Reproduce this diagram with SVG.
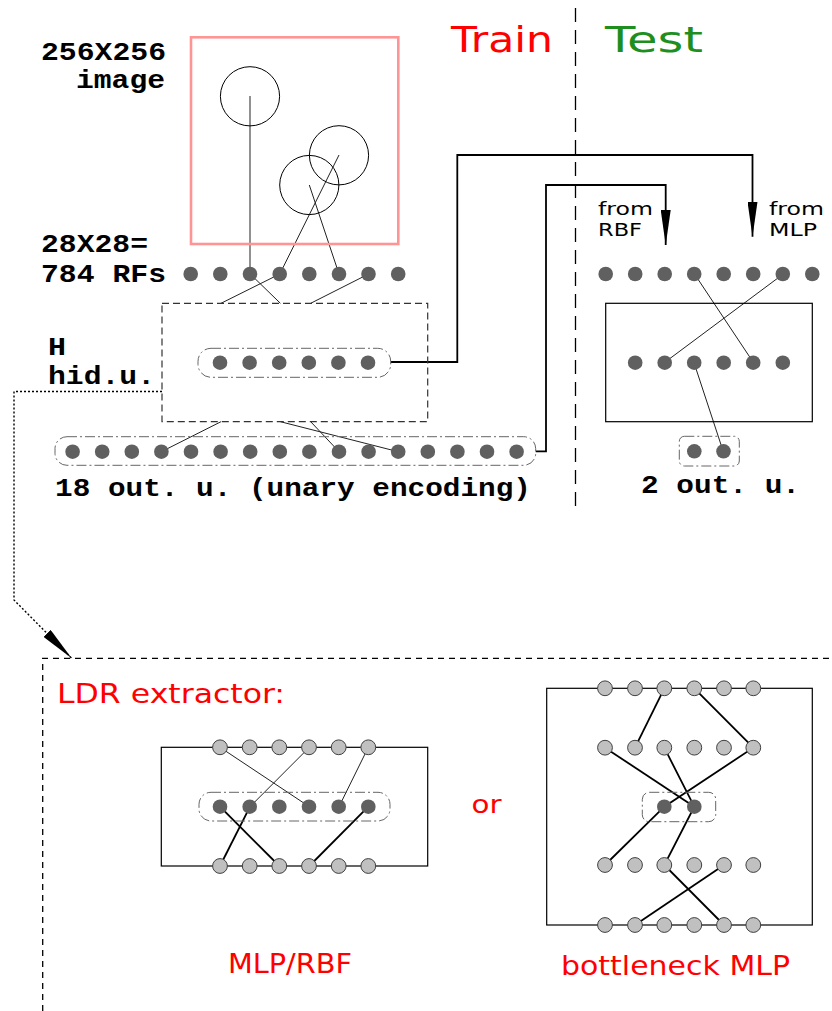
<svg xmlns="http://www.w3.org/2000/svg" width="832" height="1011" viewBox="0 0 832 1011">
<defs>
<style>
.mono{font-family:"Liberation Mono","DejaVu Sans Mono",monospace;font-weight:bold;font-size:26px;fill:#000}
.hand{font-family:"DejaVu Sans","Liberation Sans",sans-serif;fill:#ff0000}
.small{font-family:"DejaVu Sans","Liberation Sans",sans-serif;font-size:18px;fill:#000}
.dot{fill:#606060}
.ldot{fill:#c0c0c0;stroke:#404040;stroke-width:1}
.thin{stroke:#222;stroke-width:1;fill:none}
.thick{stroke:#000;stroke-width:1.8;fill:none}
.grp{fill:none;stroke:#666;stroke-width:1;stroke-dasharray:10 3 2 3}
.box{fill:none;stroke:#000;stroke-width:1.2}
.dbox{fill:none;stroke:#333;stroke-width:1.2;stroke-dasharray:7 4}
.wire{fill:none;stroke:#000;stroke-width:1.8}
</style>
<marker id="arr" viewBox="0 0 35 10" refX="35" refY="5" markerWidth="35" markerHeight="10" markerUnits="userSpaceOnUse" orient="auto">
<path d="M0,0 L35,5 L0,10 z" fill="#000"/>
</marker>
</defs>
<rect width="832" height="1011" fill="#fff"/>

<!-- Train / Test -->
<g id="train-test">
<line x1="575.5" y1="8" x2="575.5" y2="512" stroke="#000" stroke-width="1.3" stroke-dasharray="14 8"/>
<text class="hand" x="451" y="52" font-size="36" textLength="102" lengthAdjust="spacingAndGlyphs">Train</text>
<text class="hand" x="605" y="52" font-size="36" fill="#1e8f1e" style="fill:#1e8f1e" textLength="98" lengthAdjust="spacingAndGlyphs">Test</text>
</g>

<!-- connectors -->
<g id="connectors">
<line class="thin" x1="250" y1="96" x2="250" y2="274"/>
<line class="thin" x1="339" y1="155" x2="279.8" y2="274"/>
<line class="thin" x1="309.3" y1="185" x2="339" y2="274"/>
<line class="thin" x1="279.8" y1="274" x2="221" y2="303.3"/>
<line class="thin" x1="250.2" y1="274" x2="280.4" y2="303.3"/>
<line class="thin" x1="368.6" y1="274" x2="310.7" y2="303.3"/>
<line class="thin" x1="221" y1="421.7" x2="161.4" y2="451.7"/>
<line class="thin" x1="280.4" y1="421.7" x2="398.2" y2="451.7"/>
<line class="thin" x1="310.7" y1="421.7" x2="339" y2="451.7"/>
<polyline class="wire" points="390.7,362 457.3,362 457.3,155 752.5,155 752.5,236.7" marker-end="url(#arr)"/>
<polyline class="wire" points="535.7,451.3 546,451.3 546,185 665.7,185 665.7,245" marker-end="url(#arr)"/>
<line class="thin" x1="694.5" y1="274" x2="753.5" y2="362.7"/>
<line class="thin" x1="783.3" y1="274" x2="664.3" y2="362.7"/>
<line class="thin" x1="694" y1="362.7" x2="723.3" y2="451.7"/>
<polyline fill="none" stroke="#000" stroke-width="1.4" stroke-dasharray="2 2" points="162,391.5 14,391.5 14,600 71.7,658.3" marker-end="url(#arr)"/>
<line class="thin" x1="220" y1="747.3" x2="309.3" y2="806.7"/>
<line class="thin" x1="309.3" y1="747.3" x2="250" y2="806.7"/>
<line class="thin" x1="368.3" y1="747.3" x2="339" y2="806.7"/>
<line class="thick" x1="250" y1="806.7" x2="220" y2="866"/>
<line class="thick" x1="220" y1="806.7" x2="279.3" y2="866"/>
<line class="thick" x1="368.3" y1="806.7" x2="309.3" y2="866"/>
<line class="thick" x1="664.3" y1="688.3" x2="635" y2="747.7"/>
<polyline class="thick" points="694.3,688.3 753.3,747.7 664.3,806.7 605,865"/>
<line class="thick" x1="605" y1="747.7" x2="694.3" y2="806.7"/>
<polyline class="thick" points="664.3,747.7 694.3,806.7 664.3,865 724,925"/>
<line class="thick" x1="724" y1="865" x2="635" y2="925"/>
</g>

<!-- image -->
<g id="image">
<rect x="191" y="37.3" width="207.3" height="206.7" fill="none" stroke="#ff9494" stroke-width="2.6"/>
<circle cx="250" cy="96.3" r="29.6" fill="none" stroke="#000" stroke-width="1"/>
<circle cx="339" cy="155.3" r="29.6" fill="none" stroke="#000" stroke-width="1"/>
<circle cx="309.3" cy="185" r="29.6" fill="none" stroke="#000" stroke-width="1"/>
<text class="mono" x="41" y="60" textLength="125" lengthAdjust="spacingAndGlyphs">256X256</text>
<text class="mono" x="76" y="88" textLength="89" lengthAdjust="spacingAndGlyphs">image</text>
</g>

<!-- receptive fields -->
<g id="rf-layer">
<text class="mono" x="41" y="251.7" textLength="107" lengthAdjust="spacingAndGlyphs">28X28=</text>
<text class="mono" x="41" y="281.7" textLength="125" lengthAdjust="spacingAndGlyphs">784 RFs</text>
<circle class="dot" cx="190.7" cy="274" r="7.3"/>
<circle class="dot" cx="220.3" cy="274" r="7.3"/>
<circle class="dot" cx="250" cy="274" r="7.3"/>
<circle class="dot" cx="279.7" cy="274" r="7.3"/>
<circle class="dot" cx="309.3" cy="274" r="7.3"/>
<circle class="dot" cx="339" cy="274" r="7.3"/>
<circle class="dot" cx="368.5" cy="274" r="7.3"/>
<circle class="dot" cx="398.2" cy="274" r="7.3"/>
</g>

<!-- hidden layer -->
<g id="hidden-layer">
<rect class="dbox" x="162" y="303.3" width="265.7" height="118.4"/>
<rect class="grp" x="198" y="348.3" width="192.7" height="29" rx="13"/>
<circle class="dot" cx="220" cy="362.7" r="7.3"/>
<circle class="dot" cx="249.6" cy="362.7" r="7.3"/>
<circle class="dot" cx="279.2" cy="362.7" r="7.3"/>
<circle class="dot" cx="308.8" cy="362.7" r="7.3"/>
<circle class="dot" cx="338.4" cy="362.7" r="7.3"/>
<circle class="dot" cx="368" cy="362.7" r="7.3"/>
<text class="mono" x="48" y="355" textLength="18" lengthAdjust="spacingAndGlyphs">H</text>
<text class="mono" x="48" y="384.3" textLength="107" lengthAdjust="spacingAndGlyphs">hid.u.</text>
</g>

<!-- output layer (train) -->
<g id="output-layer">
<rect class="grp" x="55" y="436.7" width="480.7" height="28.6" rx="12"/>
<circle class="dot" cx="72.6" cy="451.7" r="7.3"/>
<circle class="dot" cx="102.2" cy="451.7" r="7.3"/>
<circle class="dot" cx="131.8" cy="451.7" r="7.3"/>
<circle class="dot" cx="161.4" cy="451.7" r="7.3"/>
<circle class="dot" cx="191" cy="451.7" r="7.3"/>
<circle class="dot" cx="220.6" cy="451.7" r="7.3"/>
<circle class="dot" cx="250.2" cy="451.7" r="7.3"/>
<circle class="dot" cx="279.8" cy="451.7" r="7.3"/>
<circle class="dot" cx="309.4" cy="451.7" r="7.3"/>
<circle class="dot" cx="339" cy="451.7" r="7.3"/>
<circle class="dot" cx="368.6" cy="451.7" r="7.3"/>
<circle class="dot" cx="398.2" cy="451.7" r="7.3"/>
<circle class="dot" cx="427.8" cy="451.7" r="7.3"/>
<circle class="dot" cx="457.4" cy="451.7" r="7.3"/>
<circle class="dot" cx="487" cy="451.7" r="7.3"/>
<circle class="dot" cx="516.6" cy="451.7" r="7.3"/>
<text class="mono" x="55" y="496" textLength="476" lengthAdjust="spacingAndGlyphs">18 out. u. (unary encoding)</text>
</g>

<!-- test side -->
<g id="test-network">
<text class="small" x="598" y="215" textLength="55" lengthAdjust="spacingAndGlyphs">from</text>
<text class="small" x="598" y="235.7" textLength="44" lengthAdjust="spacingAndGlyphs">RBF</text>
<text class="small" x="769" y="215" textLength="55" lengthAdjust="spacingAndGlyphs">from</text>
<text class="small" x="769" y="235.7" textLength="48" lengthAdjust="spacingAndGlyphs">MLP</text>
<circle class="dot" cx="605.7" cy="274" r="7.3"/>
<circle class="dot" cx="635.2" cy="274" r="7.3"/>
<circle class="dot" cx="664.7" cy="274" r="7.3"/>
<circle class="dot" cx="694.2" cy="274" r="7.3"/>
<circle class="dot" cx="723.7" cy="274" r="7.3"/>
<circle class="dot" cx="753.2" cy="274" r="7.3"/>
<circle class="dot" cx="782.8" cy="274" r="7.3"/>
<circle class="dot" cx="812.3" cy="274" r="7.3"/>
<rect class="box" x="605.7" y="303.3" width="206.6" height="118.4"/>
<circle class="dot" cx="635.2" cy="362.7" r="7.3"/>
<circle class="dot" cx="664.7" cy="362.7" r="7.3"/>
<circle class="dot" cx="694.2" cy="362.7" r="7.3"/>
<circle class="dot" cx="723.7" cy="362.7" r="7.3"/>
<circle class="dot" cx="753.2" cy="362.7" r="7.3"/>
<circle class="dot" cx="782.8" cy="362.7" r="7.3"/>
<rect class="grp" x="679.3" y="436.3" width="60" height="29.7" rx="5"/>
<circle class="dot" cx="694.3" cy="451.3" r="7.3"/>
<circle class="dot" cx="723.5" cy="451.3" r="7.3"/>
<text class="mono" x="641" y="493.3" textLength="159" lengthAdjust="spacingAndGlyphs">2 out. u.</text>
</g>

<!-- LDR extractor -->
<g id="ldr-extractor">
<path d="M42.7,1011 L42.7,658.3 L832,658.3" fill="none" stroke="#000" stroke-width="1.3" stroke-dasharray="6 5"/>
<text class="hand" x="57" y="703.3" font-size="27" textLength="228" lengthAdjust="spacingAndGlyphs">LDR extractor:</text>
<text class="hand" x="471.5" y="812.7" font-size="25" textLength="30" lengthAdjust="spacingAndGlyphs">or</text>
</g>

<g id="mlp-rbf">
<rect class="box" x="161.3" y="747.3" width="266.4" height="118.7"/>
<rect class="grp" x="199" y="792.3" width="191" height="28.7" rx="12"/>
<circle class="ldot" cx="220" cy="747.3" r="7.4"/>
<circle class="ldot" cx="249.7" cy="747.3" r="7.4"/>
<circle class="ldot" cx="279.3" cy="747.3" r="7.4"/>
<circle class="ldot" cx="309" cy="747.3" r="7.4"/>
<circle class="ldot" cx="338.7" cy="747.3" r="7.4"/>
<circle class="ldot" cx="368.3" cy="747.3" r="7.4"/>
<circle class="dot" cx="220" cy="806.7" r="7.3"/>
<circle class="dot" cx="249.7" cy="806.7" r="7.3"/>
<circle class="dot" cx="279.3" cy="806.7" r="7.3"/>
<circle class="dot" cx="309" cy="806.7" r="7.3"/>
<circle class="dot" cx="338.7" cy="806.7" r="7.3"/>
<circle class="dot" cx="368.3" cy="806.7" r="7.3"/>
<circle class="ldot" cx="220" cy="866" r="7.4"/>
<circle class="ldot" cx="249.7" cy="866" r="7.4"/>
<circle class="ldot" cx="279.3" cy="866" r="7.4"/>
<circle class="ldot" cx="309" cy="866" r="7.4"/>
<circle class="ldot" cx="338.7" cy="866" r="7.4"/>
<circle class="ldot" cx="368.3" cy="866" r="7.4"/>
<text class="hand" x="228" y="973.3" font-size="27" textLength="124" lengthAdjust="spacingAndGlyphs">MLP/RBF</text>
</g>

<g id="bottleneck-mlp">
<rect class="box" x="546.7" y="688.3" width="265.6" height="236.7"/>
<rect class="grp" x="642.3" y="792.3" width="73.4" height="29.4" rx="7"/>
<circle class="ldot" cx="605" cy="688.3" r="7.4"/>
<circle class="ldot" cx="635" cy="688.3" r="7.4"/>
<circle class="ldot" cx="664.3" cy="688.3" r="7.4"/>
<circle class="ldot" cx="694.3" cy="688.3" r="7.4"/>
<circle class="ldot" cx="724" cy="688.3" r="7.4"/>
<circle class="ldot" cx="753.3" cy="688.3" r="7.4"/>
<circle class="ldot" cx="605" cy="747.7" r="7.4"/>
<circle class="ldot" cx="635" cy="747.7" r="7.4"/>
<circle class="ldot" cx="664.3" cy="747.7" r="7.4"/>
<circle class="ldot" cx="694.3" cy="747.7" r="7.4"/>
<circle class="ldot" cx="724" cy="747.7" r="7.4"/>
<circle class="ldot" cx="753.3" cy="747.7" r="7.4"/>
<circle class="dot" cx="664.3" cy="806.7" r="7.3"/>
<circle class="dot" cx="694.3" cy="806.7" r="7.3"/>
<circle class="ldot" cx="605" cy="865" r="7.4"/>
<circle class="ldot" cx="635" cy="865" r="7.4"/>
<circle class="ldot" cx="664.3" cy="865" r="7.4"/>
<circle class="ldot" cx="694.3" cy="865" r="7.4"/>
<circle class="ldot" cx="724" cy="865" r="7.4"/>
<circle class="ldot" cx="753.3" cy="865" r="7.4"/>
<circle class="ldot" cx="605" cy="925" r="7.4"/>
<circle class="ldot" cx="635" cy="925" r="7.4"/>
<circle class="ldot" cx="664.3" cy="925" r="7.4"/>
<circle class="ldot" cx="694.3" cy="925" r="7.4"/>
<circle class="ldot" cx="724" cy="925" r="7.4"/>
<circle class="ldot" cx="753.3" cy="925" r="7.4"/>
<text class="hand" x="561" y="975" font-size="27" textLength="229" lengthAdjust="spacingAndGlyphs">bottleneck MLP</text>
</g>
</svg>
